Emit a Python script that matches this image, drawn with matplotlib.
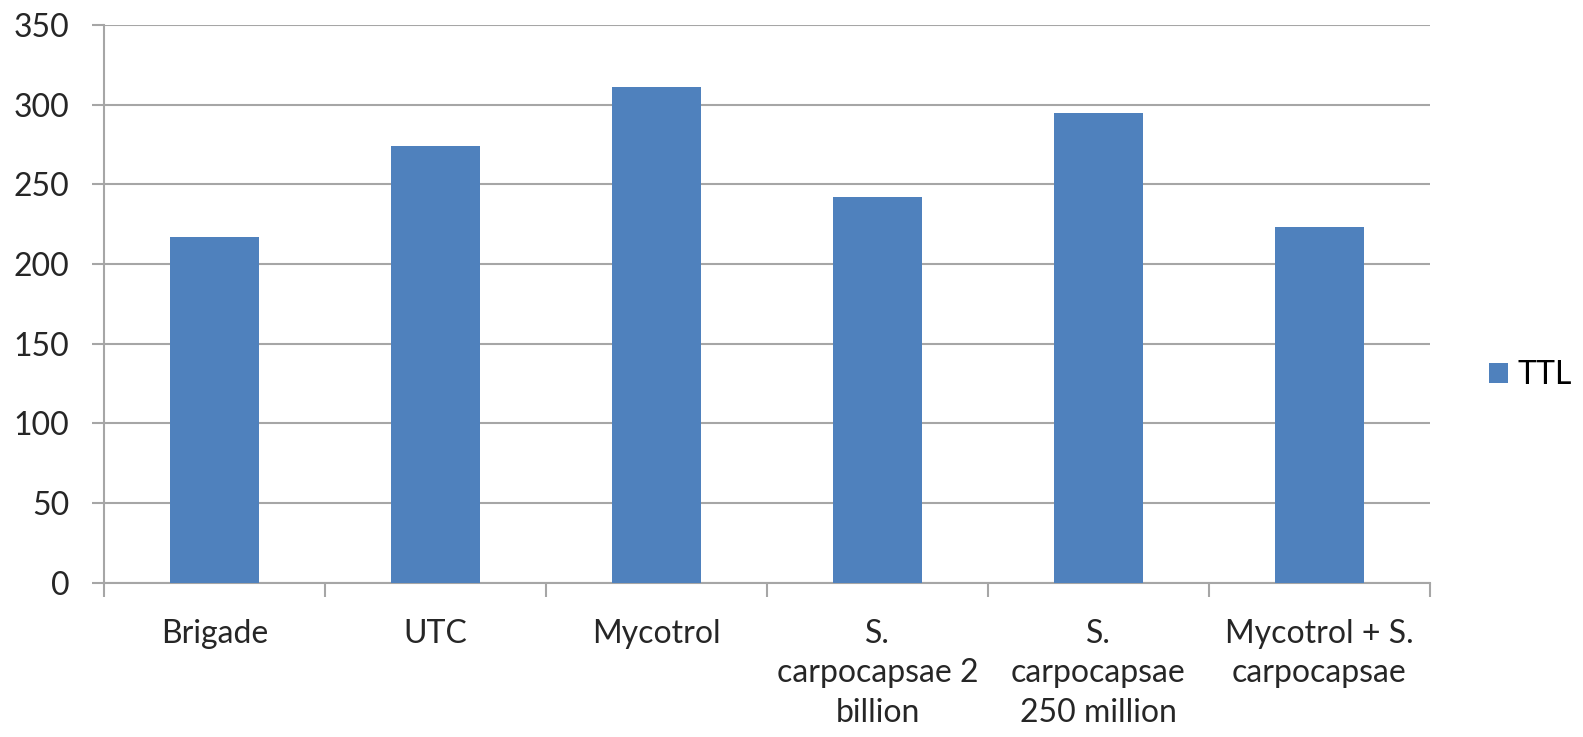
import matplotlib.pyplot as plt
import numpy as np

plt.rcParams['font.family'] = ['Lato', 'DejaVu Sans']

categories = ['Brigade', 'UTC', 'Mycotrol', 'S.\ncarpocapsae 2\nbillion',
              'S.\ncarpocapsae\n250 million', 'Mycotrol + S.\ncarpocapsae']
ttl = [217, 274, 311, 242, 295, 223]
y_ticks = [0, 50, 100, 150, 200, 250, 300, 350]

bar_color = '#4F81BD'
grid_color = '#A6A6A6'

fig = plt.figure(figsize=(15.83, 7.37), dpi=100)
ax = fig.add_axes([0.0657, 0.2096, 0.8376, 0.7564])

x = np.arange(len(categories))
ax.bar(x, ttl, width=0.4, color=bar_color, label='TTL', zorder=3)

ax.set_xlim(-0.5, len(categories) - 0.5)
ax.set_ylim(0, 350)
ax.set_yticks(y_ticks)
ax.yaxis.grid(True, color=grid_color, linewidth=1.5, zorder=0)

# category labels centred, ticks on category boundaries
ax.set_xticks(x)
ax.set_xticklabels(categories, fontsize=23, linespacing=1.4, va='top')
ax.tick_params(axis='x', length=0, pad=26)
ax.set_xticks(np.arange(len(categories) + 1) - 0.5, minor=True)
ax.tick_params(axis='x', which='minor', length=10, width=1.5, color=grid_color)
ax.tick_params(axis='y', length=9, width=1.5, color=grid_color, pad=16, labelsize=23)

for side in ['top', 'right']:
    ax.spines[side].set_visible(False)
for side in ['left', 'bottom']:
    ax.spines[side].set_color(grid_color)
    ax.spines[side].set_linewidth(1.5)

for lbl in ax.get_xticklabels() + ax.get_yticklabels():
    lbl.set_color('#262626')

ax.legend(loc='center left', bbox_to_anchor=(0.9406, 0.491), bbox_transform=fig.transFigure,
          frameon=False, fontsize=23, handlelength=0.6, handleheight=0.6, handletextpad=0.3,
          borderpad=0, borderaxespad=0)

plt.savefig('out.png', dpi=100)
plt.close()
